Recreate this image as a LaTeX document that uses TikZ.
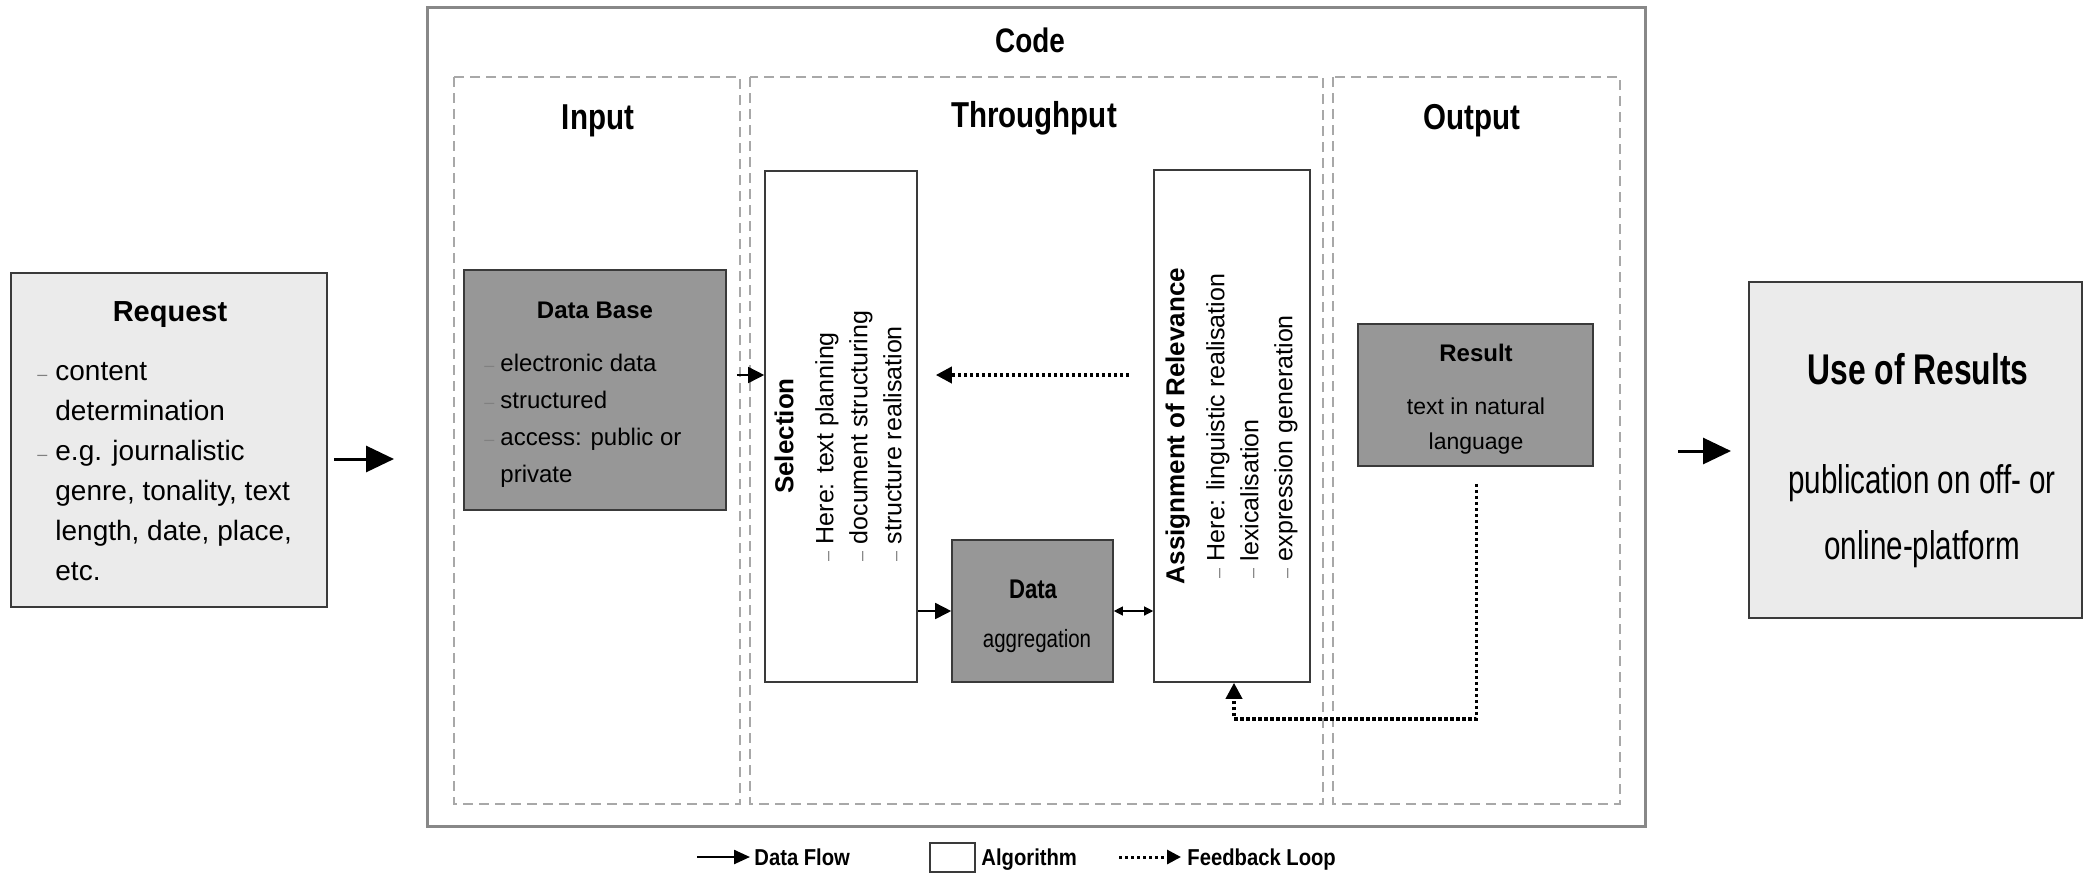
\documentclass[tikz,border=0pt]{standalone}
\usepackage{fontspec}
\setmainfont{Liberation Sans}
\newfontfamily\narrowfont[FakeStretch=0.82]{Liberation Sans}
\newfontfamily\condfont[FakeStretch=0.74]{Liberation Sans}
\newfontfamily\legfont[FakeStretch=0.88]{Liberation Sans}
\usetikzlibrary{arrows.meta,calc,positioning}

\definecolor{boxgray}{HTML}{979797}
\definecolor{lightbox}{HTML}{EBEBEB}
\definecolor{framegray}{HTML}{888888}
\definecolor{dashgray}{HTML}{A8A8A8}
\definecolor{edgegray}{HTML}{3A3A3A}

\newcommand{\itm}{\textcolor{gray}{\small --}}

\tikzset{
  panel/.style={draw=dashgray, line width=0.8pt, dash pattern=on 5pt off 3pt},
  algbox/.style={draw=edgegray, line width=0.8pt, fill=white, inner sep=0pt},
  databox/.style={draw=edgegray, line width=0.8pt, fill=boxgray, inner sep=0pt},
  outerbox/.style={draw=edgegray, line width=1pt, fill=lightbox, inner sep=0pt},
  flow/.style={line width=0.8pt, -{Triangle[length=8pt,width=8pt]}},
  bothflow/.style={line width=0.6pt, {Triangle[length=4.5pt,width=4.5pt]}-{Triangle[length=4.5pt,width=4.5pt]}},
  bigflow/.style={line width=1.5pt, -{Triangle[length=14pt,width=13pt]}},
  feedback/.style={line width=1.8pt, dash pattern=on 1.6pt off 1.4pt, -{Triangle[length=8pt,width=8pt]}},
  sectitle/.style={anchor=base, font=\narrowfont\bfseries\fontsize{18}{20}\selectfont},
  legtext/.style={anchor=base west, inner sep=0pt, font=\legfont\bfseries\fontsize{11.5}{13}\selectfont},
}

\begin{document}
\begin{tikzpicture}[x=0.5pt,y=-0.5pt]
\useasboundingbox (0,0) rectangle (2084,874);

% the code frame and its three stages
\draw[framegray, line width=1.5pt] (427,7) rectangle (1645,826);
\node[anchor=base, font=\narrowfont\bfseries\fontsize{17}{20}\selectfont] (code) at (1030,52) {Code};
\draw[panel] (454,77) rectangle (740,804);
\draw[panel] (750,77) rectangle (1323,804);
\draw[panel] (1333,77) rectangle (1620,804);
\node[sectitle] (inp) at (598,129) {Input};
\node[sectitle] (thr) at (1034,127) {Throughput};
\node[sectitle] (outp) at (1472,129) {Output};

% request
\node[outerbox, minimum width=158pt, minimum height=167pt] (req) at (169,440) {};
\node[font=\bfseries\fontsize{14.5}{17}\selectfont] (reqtitle) at (170,315) {Request};
\node[anchor=base west, inner sep=0pt, font=\fontsize{14}{20}\selectfont] (reqlist) at (37,380)
  {\begin{tabular}[t]{@{}l@{\hspace{4pt}}l@{}}
   \itm & content\\ & determination\\ \itm & e.g. journalistic\\
   & genre, tonality, text\\ & length, date, place,\\ & etc.
   \end{tabular}};

% input
\node[databox, minimum width=131pt, minimum height=120pt] (db) at (595,390) {};
\node[font=\bfseries\fontsize{12}{14}\selectfont] (dbtitle) at (595,310) {Data Base};
\node[anchor=base west, inner sep=0pt, font=\fontsize{12}{18.5}\selectfont] (dblist) at (484,371)
  {\begin{tabular}[t]{@{}l@{\hspace{3pt}}l@{}}
   \itm & electronic data\\ \itm & structured\\ \itm & access: public or\\ & private
   \end{tabular}};

% throughput
\node[algbox, minimum width=76pt, minimum height=255.5pt] (sel) at (841,426.5) {};
\node[rotate=90, align=center, inner sep=0pt, font=\fontsize{12.5}{17}\selectfont] (seltxt) at (843,436)
  {{\bfseries\fontsize{13}{17}\selectfont Selection}\\[3pt]
   \begin{tabular}[t]{@{}l@{}}\itm\ Here: text planning\\ \itm\ document structuring\\ \itm\ structure realisation\end{tabular}};
\node[algbox, minimum width=78pt, minimum height=256pt] (asg) at (1232,426) {};
\node[rotate=90, align=center, inner sep=0pt, font=\fontsize{12.5}{17}\selectfont] (asgtxt) at (1234,426)
  {{\bfseries\fontsize{13}{17}\selectfont Assignment of Relevance}\\[3pt]
   \begin{tabular}[t]{@{}l@{}}\itm\ Here: linguistic realisation\\ \itm\ lexicalisation\\ \itm\ expression generation\end{tabular}};
\node[databox, minimum width=80.5pt, minimum height=71pt] (dat) at (1032.5,611) {};
\node[font=\narrowfont\bfseries\fontsize{13.5}{15}\selectfont] (dattitle) at (1033,589) {Data};
\node[font=\narrowfont\fontsize{12.5}{14}\selectfont] (datsub) at (1037,641) {aggregation};

% output
\node[databox, minimum width=117.5pt, minimum height=71pt] (res) at (1475.5,395) {};
\node[font=\bfseries\fontsize{12}{14}\selectfont] (restitle) at (1476,353) {Result};
\node[align=center, font=\fontsize{11.5}{17.5}\selectfont] (resbody) at (1476,426) {text in natural\\language};

% use of results
\node[outerbox, minimum width=166.5pt, minimum height=168pt] (use) at (1915.5,450) {};
\node[font=\condfont\bfseries\fontsize{21.5}{24}\selectfont] (usetitle) at (1918,369) {Use of Results};
\node[align=center, font=\condfont\fontsize{20}{33}\selectfont] (usebody) at (1922,516) {publication on off- or\\online-platform};

% connectors
\coordinate (reqout) at ($(req.east)+(6,19)$);
\coordinate (codein) at ($(req.east)+(66,19)$);
\draw[bigflow] (reqout) -- (codein);
\coordinate (dbout) at ($(db.east)+(10,-15)$);
\draw[flow] (dbout) -- (dbout -| sel.west);
\coordinate (fbstart) at ($(asg.west |- dbout)+(-24,0)$);
\coordinate (fbend) at ($(sel.east |- dbout)+(18,0)$);
\draw[feedback] (fbstart) -- (fbend);
\draw[flow] (sel.east |- dat.west) -- (dat.west);
\draw[bothflow] (dat.east) -- (dat.east -| asg.west);
\coordinate (loopstart) at ($(res.south)+(1,17)$);
\coordinate (loopturn) at ($(asg.south)+(2,36)$);
\draw[feedback] (loopstart) |- (loopturn) -- (loopturn |- asg.south);
\coordinate (usein) at ($(use.west)+(-17,1)$);
\coordinate (resout) at ($(use.west)+(-70,1)$);
\draw[bigflow] (resout) -- (usein);

% legend
\coordinate (lgfs) at (697,857);
\coordinate (lgfe) at (750,857);
\draw[line width=1.2pt, -{Triangle[length=8pt,width=7pt]}] (lgfs) -- (lgfe);
\node[legtext] (lgflow) at (754,865) {Data Flow};
\node[algbox, minimum width=22.5pt, minimum height=14.5pt] (lgalg) at (952.5,857.5) {};
\node[legtext] (lgalgtxt) at (981,865) {Algorithm};
\coordinate (lgbs) at (1119,857);
\coordinate (lgbe) at (1181,857);
\draw[line width=1.5pt, dash pattern=on 1.5pt off 1.5pt, -{Triangle[length=7pt,width=7pt]}] (lgbs) -- (lgbe);
\node[legtext] (lgfbtxt) at (1187,865) {Feedback Loop};
\end{tikzpicture}
\end{document}
